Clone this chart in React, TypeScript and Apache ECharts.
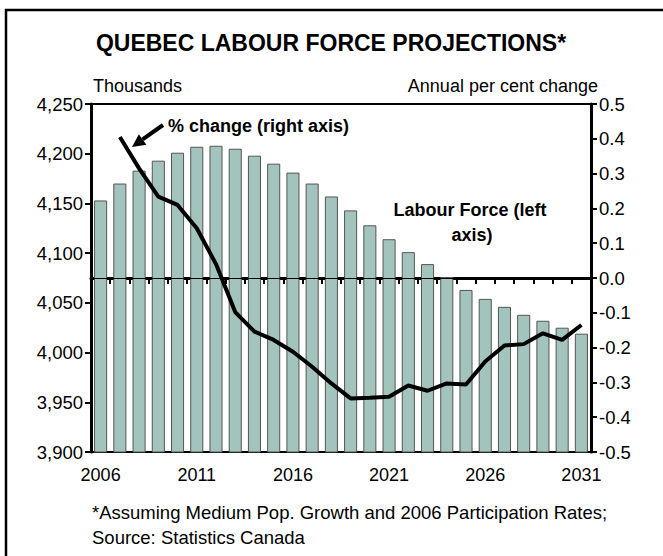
import React, { useEffect, useRef } from "react";
import * as echarts from "echarts";

const years = [
  "2006","2007","2008","2009","2010","2011","2012","2013","2014","2015",
  "2016","2017","2018","2019","2020","2021","2022","2023","2024","2025",
  "2026","2027","2028","2029","2030","2031",
];
const labourForce = [
  4153, 4170, 4183, 4193, 4201, 4207, 4208, 4205, 4198, 4190,
  4181, 4170, 4157, 4143, 4128, 4114, 4101, 4089, 4076, 4063,
  4054, 4046, 4038, 4032, 4025, 4019,
];
const pctChange = [
  null, 0.405, 0.315, 0.234, 0.21, 0.143, 0.04, -0.098, -0.154, -0.178,
  -0.212, -0.255, -0.303, -0.346, -0.344, -0.341, -0.309, -0.324, -0.303, -0.306,
  -0.24, -0.194, -0.19, -0.159, -0.178, -0.135,
];
const leftTicks = { min: 3900, max: 4250, step: 50 };
const rightTicks = { min: -0.5, max: 0.5, step: 0.1 };

const FONT = "'Liberation Sans', Arial, sans-serif";

export default function App() {
  const ref = useRef<HTMLDivElement>(null);
  useEffect(() => {
    if (!ref.current) return;
    const chart = echarts.init(ref.current, null, { renderer: "svg" });
    const tip = [132, 147];
    const tail = [163, 125];
    const dx = tip[0] - tail[0];
    const dy = tip[1] - tail[1];
    const len = Math.sqrt(dx * dx + dy * dy);
    const ux = dx / len, uy = dy / len;
    const hl = 13, hw = 6.5;
    const base = [tip[0] - ux * hl, tip[1] - uy * hl];
    const px = -uy, py = ux;
    chart.setOption({
      animation: false,
      backgroundColor: "#fff",
      textStyle: { fontFamily: FONT },
      grid: {
        left: 91, right: 72, top: 104, bottom: 104,
        show: true, borderColor: "#000", borderWidth: 2,
        backgroundColor: "transparent",
      },
      xAxis: {
        type: "category",
        data: years,
        boundaryGap: true,
        axisLine: { lineStyle: { color: "#000", width: 3 } },
        axisTick: { show: true, interval: 0, length: 6, lineStyle: { color: "#000", width: 2 } },
        axisLabel: { interval: 4, color: "#000", fontSize: 18, fontFamily: FONT, margin: 14 },
        splitLine: { show: false },
      },
      yAxis: [
        {
          type: "value",
          min: leftTicks.min, max: leftTicks.max, interval: leftTicks.step,
          axisLine: { show: true, lineStyle: { color: "#000", width: 3 } },
          axisTick: { show: true, length: 6, lineStyle: { color: "#000", width: 2 } },
          axisLabel: {
            color: "#000", fontSize: 18.5, fontFamily: FONT, margin: 8,
            formatter: (v: number) => v.toLocaleString("en-US"),
          },
          splitLine: { show: false },
        },
        {
          type: "value",
          position: "right",
          min: rightTicks.min, max: rightTicks.max, interval: rightTicks.step,
          axisLine: { show: true, lineStyle: { color: "#000", width: 3 } },
          axisTick: { show: true, length: 6, lineStyle: { color: "#000", width: 2 } },
          axisLabel: {
            color: "#000", fontSize: 18.5, fontFamily: FONT, margin: 8,
            formatter: (v: number) => (Math.abs(v) < 1e-9 ? 0 : v).toFixed(1),
          },
          splitLine: { show: false },
        },
      ],
      series: [
        {
          type: "bar",
          data: labourForce,
          yAxisIndex: 0,
          barCategoryGap: "32%",
          itemStyle: { color: "#a3c4bd", borderColor: "#555", borderWidth: 1 },
        },
        {
          type: "line",
          data: pctChange,
          yAxisIndex: 1,
          symbol: "none",
          lineStyle: { color: "#000", width: 4 },
          z: 5,
          markLine: {
            silent: true,
            symbol: ["none", "none"],
            label: { show: false },
            lineStyle: { color: "#000", width: 1, type: "solid" },
            data: [{ yAxis: 0 }],
          },
        },
      ],
      graphic: [
        {
          type: "rect",
          shape: { x: 6, y: 10, width: 700, height: 600 },
          style: { fill: "none", stroke: "#000", lineWidth: 2.5 },
          silent: true,
        },
        {
          type: "text", x: 331, y: 43,
          style: { text: "QUEBEC LABOUR FORCE PROJECTIONS*", font: `bold 23px ${FONT}`, fill: "#000", textAlign: "center", textVerticalAlign: "middle" },
        },
        {
          type: "text", x: 93, y: 86,
          style: { text: "Thousands", font: `18px ${FONT}`, fill: "#000", textAlign: "left", textVerticalAlign: "middle" },
        },
        {
          type: "text", x: 598, y: 86,
          style: { text: "Annual per cent change", font: `18px ${FONT}`, fill: "#000", textAlign: "right", textVerticalAlign: "middle" },
        },
        {
          type: "text", x: 168, y: 126,
          style: { text: "% change (right axis)", font: `bold 18px ${FONT}`, fill: "#000", textAlign: "left", textVerticalAlign: "middle" },
        },
        {
          type: "text", x: 470, y: 210,
          style: { text: "Labour Force (left", font: `bold 18px ${FONT}`, fill: "#000", textAlign: "center", textVerticalAlign: "middle" },
        },
        {
          type: "text", x: 472, y: 235,
          style: { text: "axis)", font: `bold 18px ${FONT}`, fill: "#000", textAlign: "center", textVerticalAlign: "middle" },
        },
        {
          type: "line",
          shape: { x1: tail[0], y1: tail[1], x2: base[0], y2: base[1] },
          style: { stroke: "#000", lineWidth: 4 },
        },
        {
          type: "polygon",
          shape: {
            points: [
              [tip[0], tip[1]],
              [base[0] + px * hw, base[1] + py * hw],
              [base[0] - px * hw, base[1] - py * hw],
            ],
          },
          style: { fill: "#000" },
        },
        {
          type: "text", x: 92, y: 512,
          style: { text: "*Assuming Medium Pop. Growth and 2006 Participation Rates;", font: `18.5px ${FONT}`, fill: "#000", textAlign: "left", textVerticalAlign: "middle" },
        },
        {
          type: "text", x: 92, y: 537,
          style: { text: "Source: Statistics Canada", font: `18.5px ${FONT}`, fill: "#000", textAlign: "left", textVerticalAlign: "middle" },
        },
      ],
    });
    return () => chart.dispose();
  }, []);
  return (
    <div
      ref={ref}
      style={{ position: "fixed", left: 0, top: 0, width: 663, height: 556 }}
    />
  );
}
